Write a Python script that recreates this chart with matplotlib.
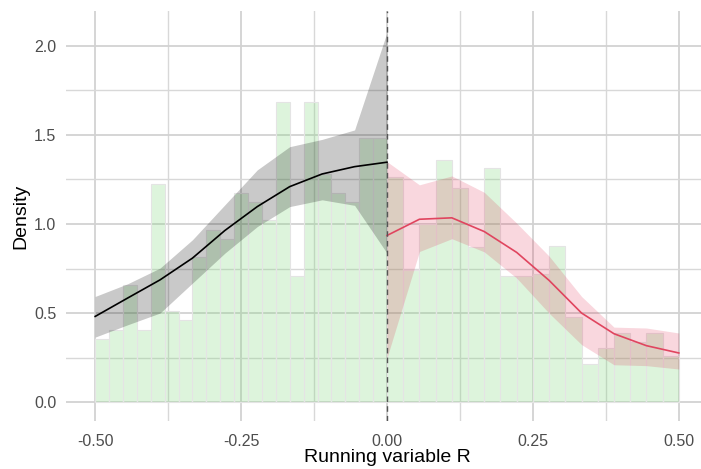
import numpy as np
import matplotlib.pyplot as plt
from matplotlib.ticker import MultipleLocator

plt.rcParams['font.family'] = ['Liberation Sans', 'DejaVu Sans']

# Гистограмма слева и справа от порога (плотность)
hist_left = [0.355, 0.407, 0.659, 0.407, 1.225, 0.510, 0.463, 0.818, 0.967, 0.915,
             1.173, 1.122, 1.023, 1.686, 0.711, 1.686, 1.281, 1.176, 1.126, 1.481, 1.481]
hist_right = [1.266, 0.743, 1.000, 1.360, 1.200, 0.874, 1.313, 0.706, 0.706, 0.720,
              0.876, 0.478, 0.217, 0.305, 0.389, 0.340, 0.389, 0.258]

# Оценка плотности слева (черная линия) и доверительный интервал
dens_left = [0.482, 0.585, 0.687, 0.809, 0.964, 1.098, 1.210, 1.281, 1.322, 1.347]
ci_left_lo = [0.366, 0.435, 0.501, 0.669, 0.837, 0.986, 1.098, 1.136, 1.105, 0.837]
ci_left_hi = [0.594, 0.665, 0.753, 0.912, 1.108, 1.304, 1.434, 1.475, 1.528, 2.075]

# Оценка плотности справа (красная линия) и доверительный интервал
dens_right = [0.936, 1.027, 1.035, 0.958, 0.841, 0.684, 0.501, 0.385, 0.318, 0.277]
ci_right_lo = [0.250, 0.846, 0.918, 0.844, 0.697, 0.500, 0.324, 0.211, 0.206, 0.187]
ci_right_hi = [1.350, 1.220, 1.270, 1.178, 1.005, 0.820, 0.594, 0.422, 0.417, 0.389]

x_ticks = [-0.5, -0.25, 0.0, 0.25, 0.5]
x_labels = ['-0.50', '-0.25', '0.00', '0.25', '0.50']
y_ticks = [0.0, 0.5, 1.0, 1.5, 2.0]
y_labels = ['0.0', '0.5', '1.0', '1.5', '2.0']

# Границы интервалов и сетка оценок
edges_left = np.linspace(-0.5, 0.0, len(hist_left) + 1)
edges_right = np.linspace(0.0, 0.5, len(hist_right) + 1)
grid_left = np.linspace(-0.5, 0.0, len(dens_left))
grid_right = np.linspace(0.0, 0.5, len(dens_right))

fig = plt.figure(figsize=(7.01, 4.69), dpi=100)
ax = fig.add_axes([66 / 701, 48 / 469, 642 / 701, 410 / 469])

# Сетка
ax.set_axisbelow(True)
ax.xaxis.set_minor_locator(MultipleLocator(0.125))
ax.yaxis.set_minor_locator(MultipleLocator(0.25))
ax.grid(True, which='major', color='#d2d2d2', lw=1.3)
ax.grid(True, which='minor', color='#d8d8d8', lw=1.0)
for s in ax.spines.values():
    s.set_visible(False)

# Гистограмма
bar_kw = dict(align='edge', color='#7fd67a', alpha=0.26, edgecolor='white', linewidth=1.0)
ax.bar(edges_left[:-1], hist_left, width=np.diff(edges_left), **bar_kw)
ax.bar(edges_right[:-1], hist_right, width=np.diff(edges_right), **bar_kw)
# контуры столбцов
ax.bar(edges_left[:-1], hist_left, width=np.diff(edges_left), align='edge',
       fill=False, edgecolor='#e4e4e4', linewidth=0.8)
ax.bar(edges_right[:-1], hist_right, width=np.diff(edges_right), align='edge',
       fill=False, edgecolor='#e4e4e4', linewidth=0.8)

# Доверительные интервалы
ax.fill_between(grid_left, ci_left_lo, ci_left_hi, color='black', alpha=0.21, lw=0)
ax.fill_between(grid_right, ci_right_lo, ci_right_hi, color='#dc143c', alpha=0.17, lw=0)

# Линии плотности
ax.plot(grid_left, dens_left, color='black', lw=1.2)
ax.plot(grid_right, dens_right, color='#e0455f', lw=1.2)

# Порог
ax.axvline(0, color='#555555', lw=1.0, ls=(0, (4, 3)))

ax.set_xlim(-0.55, 0.55)
ax.set_ylim(-0.1045, 2.195)
ax.set_xticks(x_ticks)
ax.set_xticklabels(x_labels)
ax.set_yticks(y_ticks)
ax.set_yticklabels(y_labels)
ax.tick_params(which='both', length=0, colors='#4d4d4d', labelsize=11.5)
ax.tick_params(axis='x', pad=9)
ax.tick_params(axis='y', pad=7)

fig.text(387 / 701, 1 - 457 / 469, 'Running variable R', ha='center', va='center', fontsize=14)
fig.text(21 / 701, 1 - 216 / 469, 'Density', ha='center', va='center', rotation=90, fontsize=14)

fig.savefig('out.png', dpi=100)
